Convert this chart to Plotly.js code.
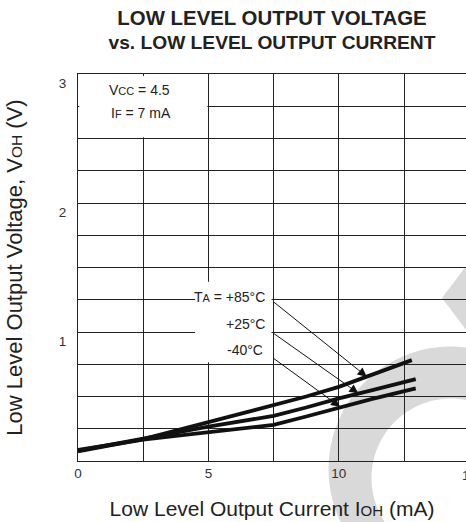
<!DOCTYPE html>
<html>
<head>
<meta charset="utf-8">
<script src="https://cdn.plot.ly/plotly-3.0.1.min.js"></script>
<style>html,body{margin:0;padding:0;background:#fff;}#chart{width:466px;height:522px;}</style>
</head>
<body>
<div id="chart"></div>
<script>
// ---- data ----
const current85 = [0, 1.25, 2.5, 3.75, 5, 6.25, 7.5, 8.75, 10, 11.25, 12.8];
const voltage85 = [0.075, 0.12, 0.17, 0.235, 0.30, 0.365, 0.432, 0.50, 0.575, 0.665, 0.782];
const current25 = [0, 1.25, 2.5, 3.75, 5, 6.25, 7.5, 8.75, 10, 11.25, 12.95];
const voltage25 = [0.08, 0.125, 0.168, 0.22, 0.266, 0.31, 0.35, 0.415, 0.486, 0.548, 0.635];
const currentM40 = [0, 1.25, 2.5, 3.75, 5, 6.25, 7.5, 8.75, 10, 11.25, 12.95];
const voltageM40 = [0.085, 0.128, 0.165, 0.195, 0.222, 0.25, 0.28, 0.345, 0.416, 0.48, 0.563];

const xTickVals = [0, 2.5, 5, 7.5, 10, 12.5];
const xTickText = ['0', '', '5', '', '10', ''];
const yTickVals = [0, 0.25, 0.5, 0.75, 1, 1.25, 1.5, 1.75, 2, 2.25, 2.5, 2.75, 3];
const yTickText = ['', '', '', '', '1', '', '', '', '2', '', '', '', '3'];

const seriesLabels = ['T<span style="font-size:11px">A</span> = +85°C', '+25°C', '-40°C'];
const labelPos = [[7.25, 1.27], [7.25, 1.062], [7.18, 0.86]];
const arrowTail = [[7.44, 1.243], [7.44, 0.998], [7.44, 0.804]];
const arrowHead = [[11.07, 0.654], [10.75, 0.525], [10.05, 0.421]];

// ---- layout helpers ----
const L = 78, T = 74, W = 466, H = 522, B = 61;
const pw = W - L, ph = H - T - B;
function px2paper(x, y) { return [(x - L) / pw, (H - B - y) / ph]; }
function circlePts(cx, cy, r, n, rev) {
  const pts = [];
  for (let i = 0; i <= n; i++) {
    const a = (rev ? -1 : 1) * 2 * Math.PI * i / n;
    pts.push(px2paper(cx + r * Math.cos(a), cy + r * Math.sin(a)));
  }
  return pts;
}
function ptsPath(pts) {
  return pts.map((p, i) => (i ? 'L' : 'M') + p[0].toFixed(4) + ',' + p[1].toFixed(4)).join(' ') + ' Z';
}
const ringPath = ptsPath(circlePts(451, 469, 122.5, 90, false)) + ' ' + ptsPath(circlePts(451, 478, 79.5, 90, true));
const triPath = ptsPath([px2paper(442, 298), px2paper(470, 261), px2paper(470, 335)]);

const lineStyle = {color: '#111', width: 3.8};
const traces = [
  {x: current85, y: voltage85, mode: 'lines', line: lineStyle, name: '+85°C', hoverinfo: 'skip'},
  {x: current25, y: voltage25, mode: 'lines', line: lineStyle, name: '+25°C', hoverinfo: 'skip'},
  {x: currentM40, y: voltageM40, mode: 'lines', line: lineStyle, name: '-40°C', hoverinfo: 'skip'}
];

const font = 'Liberation Sans, Arial, Helvetica, sans-serif';
const annotations = [
  {xref: 'x', yref: 'y', x: 2.34, y: 2.876, text: 'V<span style="font-size:11px">CC</span> = 4.5', showarrow: false, xanchor: 'center', yanchor: 'middle', font: {family: font, size: 14, color: '#222'}},
  {xref: 'x', yref: 'y', x: 2.42, y: 2.698, text: 'I<span style="font-size:11px">F</span> = 7 mA', showarrow: false, xanchor: 'center', yanchor: 'middle', font: {family: font, size: 14, color: '#222'}},
  {xref: 'paper', yref: 'paper', x: (469 - L) / pw, y: 0, yshift: -14, text: '15', showarrow: false, xanchor: 'center', yanchor: 'middle', font: {family: font, size: 13.5, color: '#333'}}
];
seriesLabels.forEach((t, i) => {
  annotations.push({xref: 'x', yref: 'y', x: labelPos[i][0], y: labelPos[i][1], text: t, showarrow: false, xanchor: 'right', yanchor: 'middle', font: {family: font, size: 14, color: '#222'}});
  annotations.push({xref: 'x', yref: 'y', axref: 'x', ayref: 'y', x: arrowHead[i][0], y: arrowHead[i][1], ax: arrowTail[i][0], ay: arrowTail[i][1], text: '', showarrow: true, arrowhead: 2, arrowsize: 1.8, arrowwidth: 1, arrowcolor: '#111', standoff: 0, startstandoff: 0});
});

const shapes = [
  {type: 'path', xref: 'paper', yref: 'paper', path: ringPath, fillcolor: 'rgb(217,217,217)', line: {width: 0}, layer: 'below'},
  {type: 'path', xref: 'paper', yref: 'paper', path: triPath, fillcolor: 'rgb(217,217,217)', line: {width: 0}, layer: 'below'},
  {type: 'rect', xref: 'x', yref: 'y', x0: 0.05, x1: 4.96, y0: 2.51, y1: 2.985, fillcolor: '#fff', line: {width: 0}, layer: 'between'},
  {type: 'rect', xref: 'x', yref: 'y', x0: 4.49, x1: 7.42, y0: 0.765, y1: 1.39, fillcolor: '#fff', line: {width: 0}, layer: 'between'}
];

const layout = {
  width: W, height: H,
  margin: {l: L, r: 0, t: T, b: B, pad: 0},
  paper_bgcolor: '#fff', plot_bgcolor: 'rgba(0,0,0,0)',
  showlegend: false,
  font: {family: font, color: '#222'},
  title: {text: '<b><span style="font-size:20.4px">LOW LEVEL OUTPUT VOLTAGE</span><br>vs. LOW LEVEL OUTPUT CURRENT</b>', font: {family: font, size: 19.2, color: '#222'}, xref: 'paper', x: 0.5, xanchor: 'center', yref: 'container', y: 0.953, yanchor: 'top'},
  xaxis: {
    range: [0, pw / 26.08], tickvals: xTickVals, ticktext: xTickText, ticks: '',
    showgrid: true, gridcolor: '#222', gridwidth: 1, zeroline: false,
    showline: true, linecolor: '#222', linewidth: 1, mirror: true,
    tickfont: {family: font, size: 13.5, color: '#333'},
    title: {text: 'Low Level Output Current I<span style="font-size:15px">OH</span> (mA)', font: {family: font, size: 21, color: '#222'}, standoff: 21},
    fixedrange: true
  },
  yaxis: {
    range: [0, 3], tickvals: yTickVals, ticktext: yTickText, ticks: '',
    showgrid: true, gridcolor: '#222', gridwidth: 1, zeroline: false,
    showline: true, linecolor: '#222', linewidth: 1, mirror: false,
    tickfont: {family: font, size: 13.5, color: '#333'}, ticklabelstandoff: 8, ticklabelshift: 9,
    title: {text: 'Low Level Output Voltage, V<span style="font-size:15.5px">OH</span> (V)', font: {family: font, size: 22, color: '#222'}, standoff: 30},
    fixedrange: true
  },
  annotations: annotations,
  shapes: shapes
};

Plotly.newPlot('chart', traces, layout, {staticPlot: true, displayModeBar: false});
</script>
</body>
</html>
